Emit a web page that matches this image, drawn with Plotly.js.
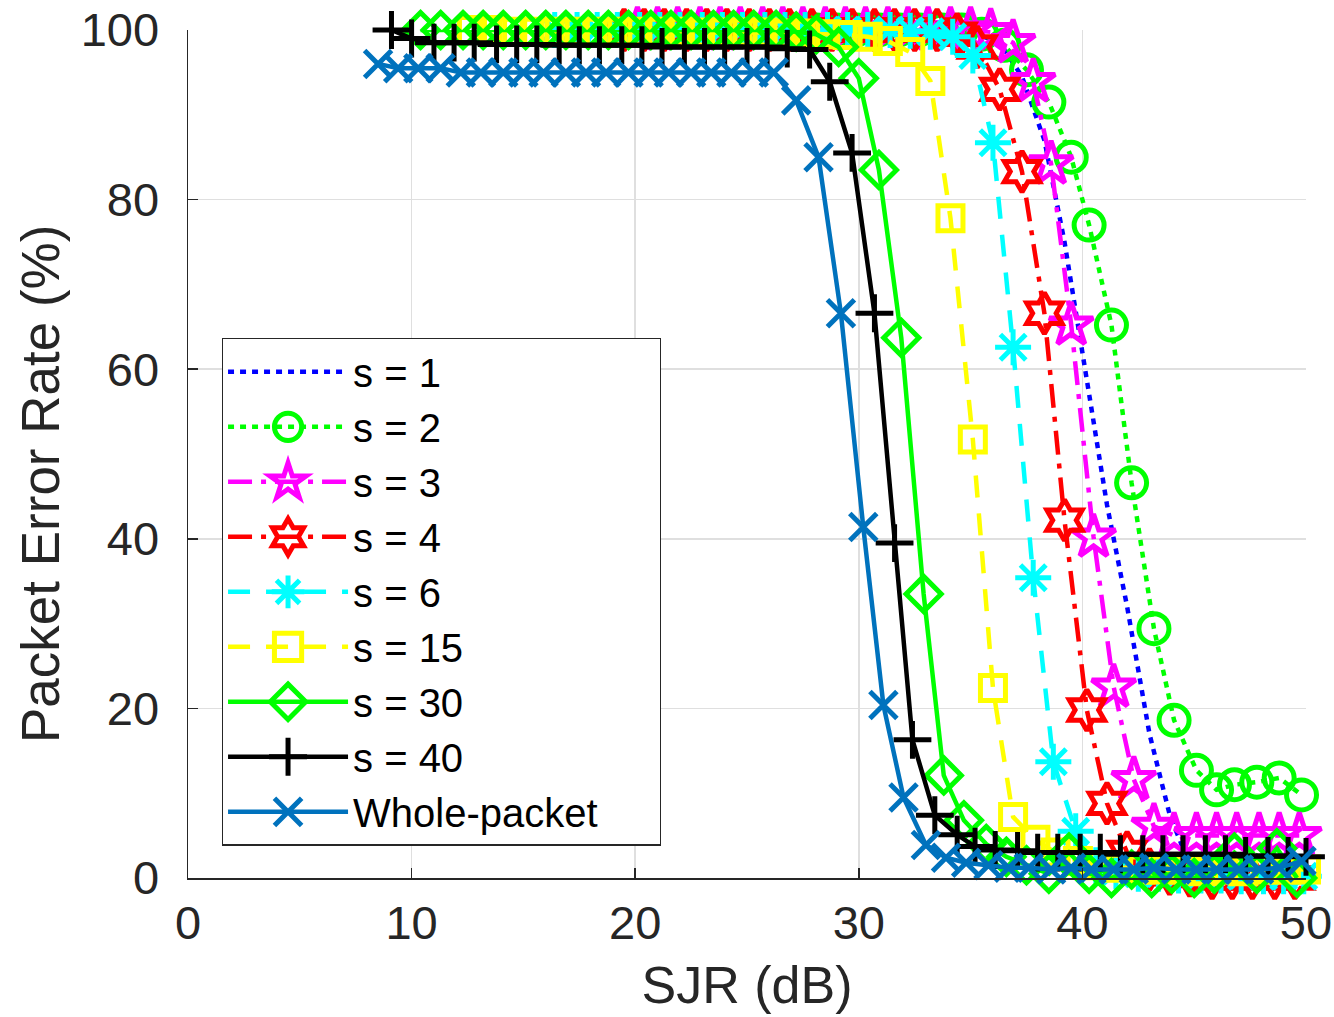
<!DOCTYPE html>
<html>
<head>
<meta charset="utf-8">
<script src="https://cdn.plot.ly/plotly-3.0.1.min.js"></script>
<style>
  html, body { margin: 0; padding: 0; background: #ffffff; }
  #chart { width: 1334px; height: 1017px; }
</style>
</head>
<body>
<div id="chart"></div>
<script>
// ---- Data ----
var seriesNames = ["s = 1", "s = 2", "s = 3", "s = 4", "s = 6", "s = 15", "s = 30", "s = 40", "Whole-packet"];

var xS1 = [19.5,20.4,21.3,22.3,23.2,24.1,25.1,26.0,26.9,27.9,28.8,29.7,30.7,31.6,32.5,33.5,34.4,35.3,36.3,37.3,38.3,39.2,40.2,41.1,42.0,43.0,43.9,44.8,45.8,46.7,47.6,48.6,49.5];
var yS1 = [100,100,100,100,100,100,100,100,100,100,100,100,100,100,100,100,99.8,99.5,98.5,94.5,87,75,58.7,44,32,17,7.5,1.5,0.5,0.3,0.2,0.2,0.2];

var xS2 = [19.7,20.6,21.5,22.5,23.4,24.3,25.3,26.2,27.1,28.1,29.0,29.9,30.9,31.8,32.7,33.7,34.6,35.5,36.5,37.5,38.5,39.5,40.3,41.3,42.2,43.2,44.1,45.1,46.0,46.8,47.8,48.8,49.8];
var yS2 = [100,100,100,100,100,100,100,100,100,100,100,100,100,100,100,100,100,99.5,98.2,95.3,91.5,85,77,65.2,46.6,29.4,18.6,12.7,10.4,11.0,11.3,11.8,9.8];

var xS3 = [20.1,21.0,21.9,22.9,23.8,24.7,25.7,26.6,27.5,28.5,29.4,30.3,31.3,32.2,33.1,34.1,35.0,35.9,36.9,37.8,38.6,39.5,40.5,41.4,42.3,43.2,44.1,45.1,46.0,46.9,47.9,48.8,49.7];
var yS3 = [100,100,100,100,100,100,100,100,100,100,100,100,100,100,100,100,100,99.8,98.5,93.9,84.2,65.2,40.2,22.5,11.6,6.1,5.0,5.0,5.0,5.0,5.0,5.0,5.0];

var xS4 = [19.5,20.4,21.3,22.3,23.2,24.1,25.1,26.0,26.9,27.9,28.8,29.7,30.7,31.6,32.5,33.5,34.4,35.3,36.3,37.3,38.3,39.2,40.2,41.1,42.0,43.0,43.9,44.8,45.8,46.7,47.6,48.6,49.5];
var yS4 = [100,100,100,100,100,100,100,100,100,100,100,100,100,100,100,100,99.5,98,93,83.3,66.6,42.2,19.8,8.8,3,1,0.5,0.3,0,0,0,0,0];

var xS6 = [16.4,17.4,18.3,19.2,20.2,21.1,22.0,23.0,23.9,24.8,25.8,26.7,27.6,28.6,29.5,30.4,31.4,32.3,33.2,34.2,35.1,36.0,36.9,37.8,38.7,39.7,40.6,41.5,42.5,43.4,44.3,45.3,46.2,47.1,48.1,49.0,49.9];
var yS6 = [100,100,100,100,100,100,100,100,100,100,100,100,100,100,100,100,100,99.9,99.8,99.2,97,86.7,62.6,35.4,13.7,5.5,1.5,0.8,0.5,0.5,0.3,0.3,0.3,0.2,0.2,0.2,0.2];

var xS15 = [12.7,13.6,14.5,15.5,16.4,17.3,18.3,19.2,20.1,21.1,22.0,22.9,23.9,24.8,25.7,26.7,27.6,28.5,29.5,30.4,31.3,32.3,33.2,34.1,35.1,36.0,36.9,37.9,38.8,39.8,40.7,41.6,42.6,43.5,44.4,45.4,46.3,47.2,48.2,49.1,50.0];
var yS15 = [100,100,99.8,99.8,99.8,99.8,99.8,99.8,99.8,99.8,99.8,99.7,99.7,99.7,99.7,99.6,99.6,99.5,99.4,99.2,98.7,97.4,94,77.8,51.7,22.4,7.2,4.5,3,2,1.5,1.2,1,1,1,0.8,1,0.8,1,1,1];

var xS30 = [10.4,11.3,12.3,13.2,14.1,15.1,16.0,16.9,17.9,18.8,19.7,20.7,21.6,22.5,23.5,24.4,25.3,26.3,27.2,28.1,29.1,30.0,30.9,31.9,32.9,33.8,34.7,35.7,36.6,37.5,38.5,39.4,40.3,41.3,42.2,43.1,44.0,45.0,45.9,46.8,47.8,48.7,49.6];
var yS30 = [100,100,100,100,100,100,100,100,100,100,100,100,100,100,100,100,100,100,99.8,99.5,98,94.3,83.5,63.7,33.5,12.1,6.8,4,2.5,1.5,0.5,3,0.5,0,1,0,0.5,0,0.5,3,0.5,3.5,0];

var xS40 = [9.1,10.0,11.0,11.9,12.8,13.8,14.7,15.6,16.6,17.5,18.4,19.4,20.3,21.2,22.2,23.1,24.0,25.0,25.9,26.8,27.8,28.7,29.7,30.7,31.6,32.4,33.4,34.4,35.2,36.1,37.1,38.0,38.9,39.9,40.8,41.7,42.7,43.6,44.5,45.5,46.4,47.3,48.3,49.2,50.0];
var yS40 = [100,99,98.5,98.5,98.5,98.3,98.3,98.3,98.2,98.2,98.2,98.2,98.2,98,98,98,98,98,98,97.8,97.7,93.9,85.5,66.6,39.5,16.3,7.4,5.1,3.7,3.3,3.2,3,3,3,3,2.8,2.8,2.8,2.8,2.8,2.8,2.6,2.6,2.6,2.5];

var xWhole = [8.5,9.4,10.3,11.3,12.2,13.1,14.1,15.0,15.9,16.9,17.8,18.7,19.7,20.6,21.5,22.5,23.4,24.3,25.3,26.2,27.2,28.2,29.2,30.2,31.1,32.0,33.0,33.9,34.8,35.8,36.7,37.6,38.6,39.5,40.4,41.4,42.3,43.2,44.2,45.1,46.0,47.0,47.9,48.8,49.8];
var yWhole = [96,95.5,95.5,95.5,95,95,95,95,95,95,95,95,95,95,95,95,95,95,95,95,91.7,85,66.6,41.4,20.4,9.5,3.9,2.4,1.8,1.5,1.2,1.2,1,1.2,1,1,1,1.2,1,1,1,1,1,1.2,2];

var xTicks = [0, 10, 20, 30, 40, 50];
var yTicks = [0, 20, 40, 60, 80, 100];

// ---- Styles ----
var TXT = '#262626';
var FONT = 'Liberation Sans, Arial, Helvetica, sans-serif';
var LW = 4.5;
var MLW = 5;

function mk(name, x, y, color, dash, symbol, size) {
  var t = {
    type: 'scatter', name: name, x: x, y: y,
    mode: symbol ? 'lines+markers' : 'lines',
    line: {color: color, width: LW, dash: dash},
    cliponaxis: false
  };
  if (symbol) {
    t.marker = {symbol: symbol, size: size, color: color, line: {color: color, width: MLW}};
  }
  return t;
}

var dotted = '6px,6px';
var dashdot = '24px,9px,5px,9px';
var dashed = '22px,16px';

var traces = [
  mk(seriesNames[0], xS1, yS1, '#0000ff', dotted, null, 0),
  mk(seriesNames[1], xS2, yS2, '#00ff00', dotted, 'circle-open', 30),
  mk(seriesNames[2], xS3, yS3, '#ff00ff', dashdot, 'star-open', 33),
  mk(seriesNames[3], xS4, yS4, '#ff0000', dashdot, 'hexagram-open', 31),
  mk(seriesNames[4], xS6, yS6, '#00ffff', dashed, 'asterisk-open', 30),
  mk(seriesNames[5], xS15, yS15, '#ffff00', dashed, 'square-open', 25),
  mk(seriesNames[6], xS30, yS30, '#00ff00', 'solid', 'diamond-open', 27),
  mk(seriesNames[7], xS40, yS40, '#000000', 'solid', 'cross-thin-open', 27),
  mk(seriesNames[8], xWhole, yWhole, '#0072BD', 'solid', 'x-thin-open', 27)
];

var layout = {
  width: 1334, height: 1017,
  margin: {l: 188, r: 28, t: 30, b: 139},
  paper_bgcolor: '#ffffff', plot_bgcolor: '#ffffff',
  font: {family: FONT, color: TXT, size: 47},
  showlegend: true,
  legend: {
    x: 0.03, y: 0.637, xanchor: 'left', yanchor: 'top',
    bgcolor: '#ffffff', bordercolor: TXT, borderwidth: 1.5,
    font: {family: FONT, size: 40, color: '#000000'},
    itemwidth: 120, tracegroupgap: 0
  },
  annotations: [{
    text: 'Packet Error Rate (%)', xref: 'paper', yref: 'paper',
    x: 0, y: 0.4646, xanchor: 'center', yanchor: 'middle',
    xshift: -148, textangle: -90, showarrow: false,
    font: {family: FONT, size: 53, color: TXT}
  }],
  xaxis: {
    range: [0, 50], tickvals: xTicks, ticktext: xTicks.map(String),
    showgrid: true, gridcolor: '#dfdfdf', gridwidth: 1.5,
    zeroline: false, showline: true, linecolor: TXT, linewidth: 1.5,
    ticks: 'inside', ticklen: 10, tickwidth: 1.5, tickcolor: TXT,
    tickfont: {family: FONT, size: 47, color: TXT},
    ticklabelstandoff: 3,
    title: {text: 'SJR (dB)', font: {family: FONT, size: 52, color: TXT}, standoff: 18},
    mirror: false, fixedrange: true
  },
  yaxis: {
    range: [0, 100], tickvals: yTicks, ticktext: yTicks.map(String),
    showgrid: true, gridcolor: '#dfdfdf', gridwidth: 1.5,
    zeroline: false, showline: true, linecolor: TXT, linewidth: 1.5,
    ticks: 'inside', ticklen: 10, tickwidth: 1.5, tickcolor: TXT,
    tickfont: {family: FONT, size: 47, color: TXT},
    ticklabelstandoff: 18,
    mirror: false, fixedrange: true
  }
};

var LEGEND_BOX_WIDTH = 438;

Plotly.newPlot('chart', traces, layout, {staticPlot: true, displayModeBar: false}).then(function (gd) {
  // Enlarge legend symbols to match the plot's marker size (Plotly caps them at 16px).
  var pts = gd.querySelectorAll('.legend .legendpoints path.scatterpts');
  pts.forEach(function (p) {
    var tr = p.getAttribute('transform') || '';
    p.setAttribute('transform', tr + ' scale(1.7)');
    p.style.strokeWidth = (MLW / 1.7) + 'px';
  });
  // Widen the legend frame to leave the right-hand padding seen in the reference.
  var bg = gd.querySelector('.legend rect.bg');
  if (bg) {
    var w = parseFloat(bg.getAttribute('width')) || 0;
    if (w < LEGEND_BOX_WIDTH) bg.setAttribute('width', LEGEND_BOX_WIDTH);
  }
});
</script>
</body>
</html>
